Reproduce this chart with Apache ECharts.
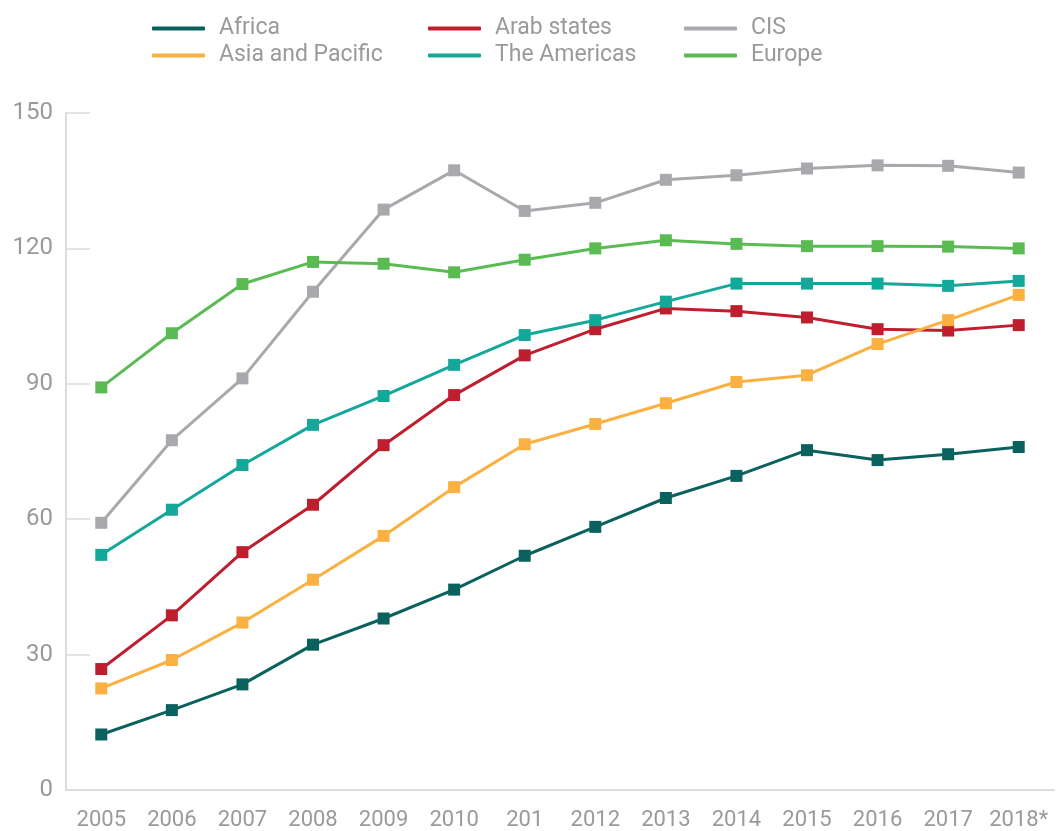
<!DOCTYPE html>
<html>
<head>
<meta charset="utf-8">
<script src="https://cdn.jsdelivr.net/npm/echarts@6/dist/echarts.min.js"></script>
<style>
  html, body { margin: 0; padding: 0; background: #fff; }
  #chart { width: 1056px; height: 831px; }
</style>
</head>
<body>
<div id="chart"></div>
<script>
// categories (the "201" label is as printed in the source)
const years = ['2005', '2006', '2007', '2008', '2009', '2010', '201', '2012', '2013', '2014', '2015', '2016', '2017', '2018*'];
const yTicks = [0, 30, 60, 90, 120, 150];

const africa = [12.3, 17.7, 23.4, 32.2, 38.0, 44.4, 51.9, 58.3, 64.7, 69.6, 75.3, 73.1, 74.4, 76.0];
const arabStates = [26.8, 38.7, 52.7, 63.2, 76.4, 87.5, 96.3, 102.1, 106.7, 106.1, 104.7, 102.1, 101.8, 103.0];
const cis = [59.2, 77.5, 91.2, 110.4, 128.6, 137.3, 128.3, 130.1, 135.2, 136.2, 137.7, 138.4, 138.3, 136.8];
const asiaPacific = [22.5, 28.8, 37.1, 46.6, 56.3, 67.1, 76.6, 81.1, 85.7, 90.4, 91.9, 98.8, 104.1, 109.7];
const americas = [52.1, 62.1, 72.0, 80.9, 87.3, 94.2, 100.8, 104.1, 108.2, 112.2, 112.2, 112.2, 111.7, 112.8];
const europe = [89.2, 101.2, 112.1, 117.0, 116.6, 114.7, 117.5, 120.0, 121.8, 121.0, 120.5, 120.5, 120.4, 120.0];

const chart = echarts.init(document.getElementById('chart'));

const font = 'Roboto, "Noto Sans", sans-serif';
const grey = '#999a9c';
const axisGrey = '#dcdcdc';

function mkSeries(name, data, color) {
    return {
        name: name,
        type: 'line',
        data: data,
        symbol: 'rect',
        symbolSize: 12,
        lineStyle: { color: color, width: 3 },
        itemStyle: { color: color },
        emphasis: { disabled: true }
    };
}

function mkLegend(left, names) {
    return {
        orient: 'vertical',
        left: left,
        top: 15,
        padding: 0,
        itemWidth: 53,
        itemHeight: 4,
        itemGap: 0,
        icon: 'roundRect',
        data: names,
        textStyle: {
            color: grey,
            fontFamily: font,
            fontSize: 23,
            lineHeight: 27,
            padding: [0, 0, 0, 9]
        }
    };
}

const option = {
    animation: false,
    legend: [
        mkLegend(152, ['Africa', 'Asia and Pacific']),
        mkLegend(428, ['Arab states', 'The Americas']),
        mkLegend(684, ['CIS', 'Europe'])
    ],
    grid: { left: 66, right: 2, top: 113, bottom: 39, containLabel: false },
    xAxis: {
        type: 'category',
        data: years,
        boundaryGap: true,
        axisLine: { lineStyle: { color: axisGrey, width: 2 } },
        axisTick: { inside: true, length: 17, lineStyle: { color: axisGrey, width: 1.5 } },
        axisLabel: { interval: 0, color: grey, fontFamily: font, fontSize: 22, margin: 19 }
    },
    yAxis: {
        type: 'value',
        min: yTicks[0],
        max: yTicks[yTicks.length - 1],
        interval: 30,
        splitLine: { show: false },
        axisLine: { show: true, lineStyle: { color: axisGrey, width: 2 } },
        axisTick: { show: true, inside: true, length: 24, lineStyle: { color: axisGrey, width: 1.5 } },
        axisLabel: { color: grey, fontFamily: font, fontSize: 24, margin: 13 }
    },
    series: [
        mkSeries('Africa', africa, '#0a615d'),
        mkSeries('Arab states', arabStates, '#be1e2d'),
        mkSeries('CIS', cis, '#a8a9ad'),
        mkSeries('Asia and Pacific', asiaPacific, '#fbb042'),
        mkSeries('The Americas', americas, '#14a89b'),
        mkSeries('Europe', europe, '#5bbb53')
    ]
};

chart.setOption(option);
</script>
</body>
</html>
